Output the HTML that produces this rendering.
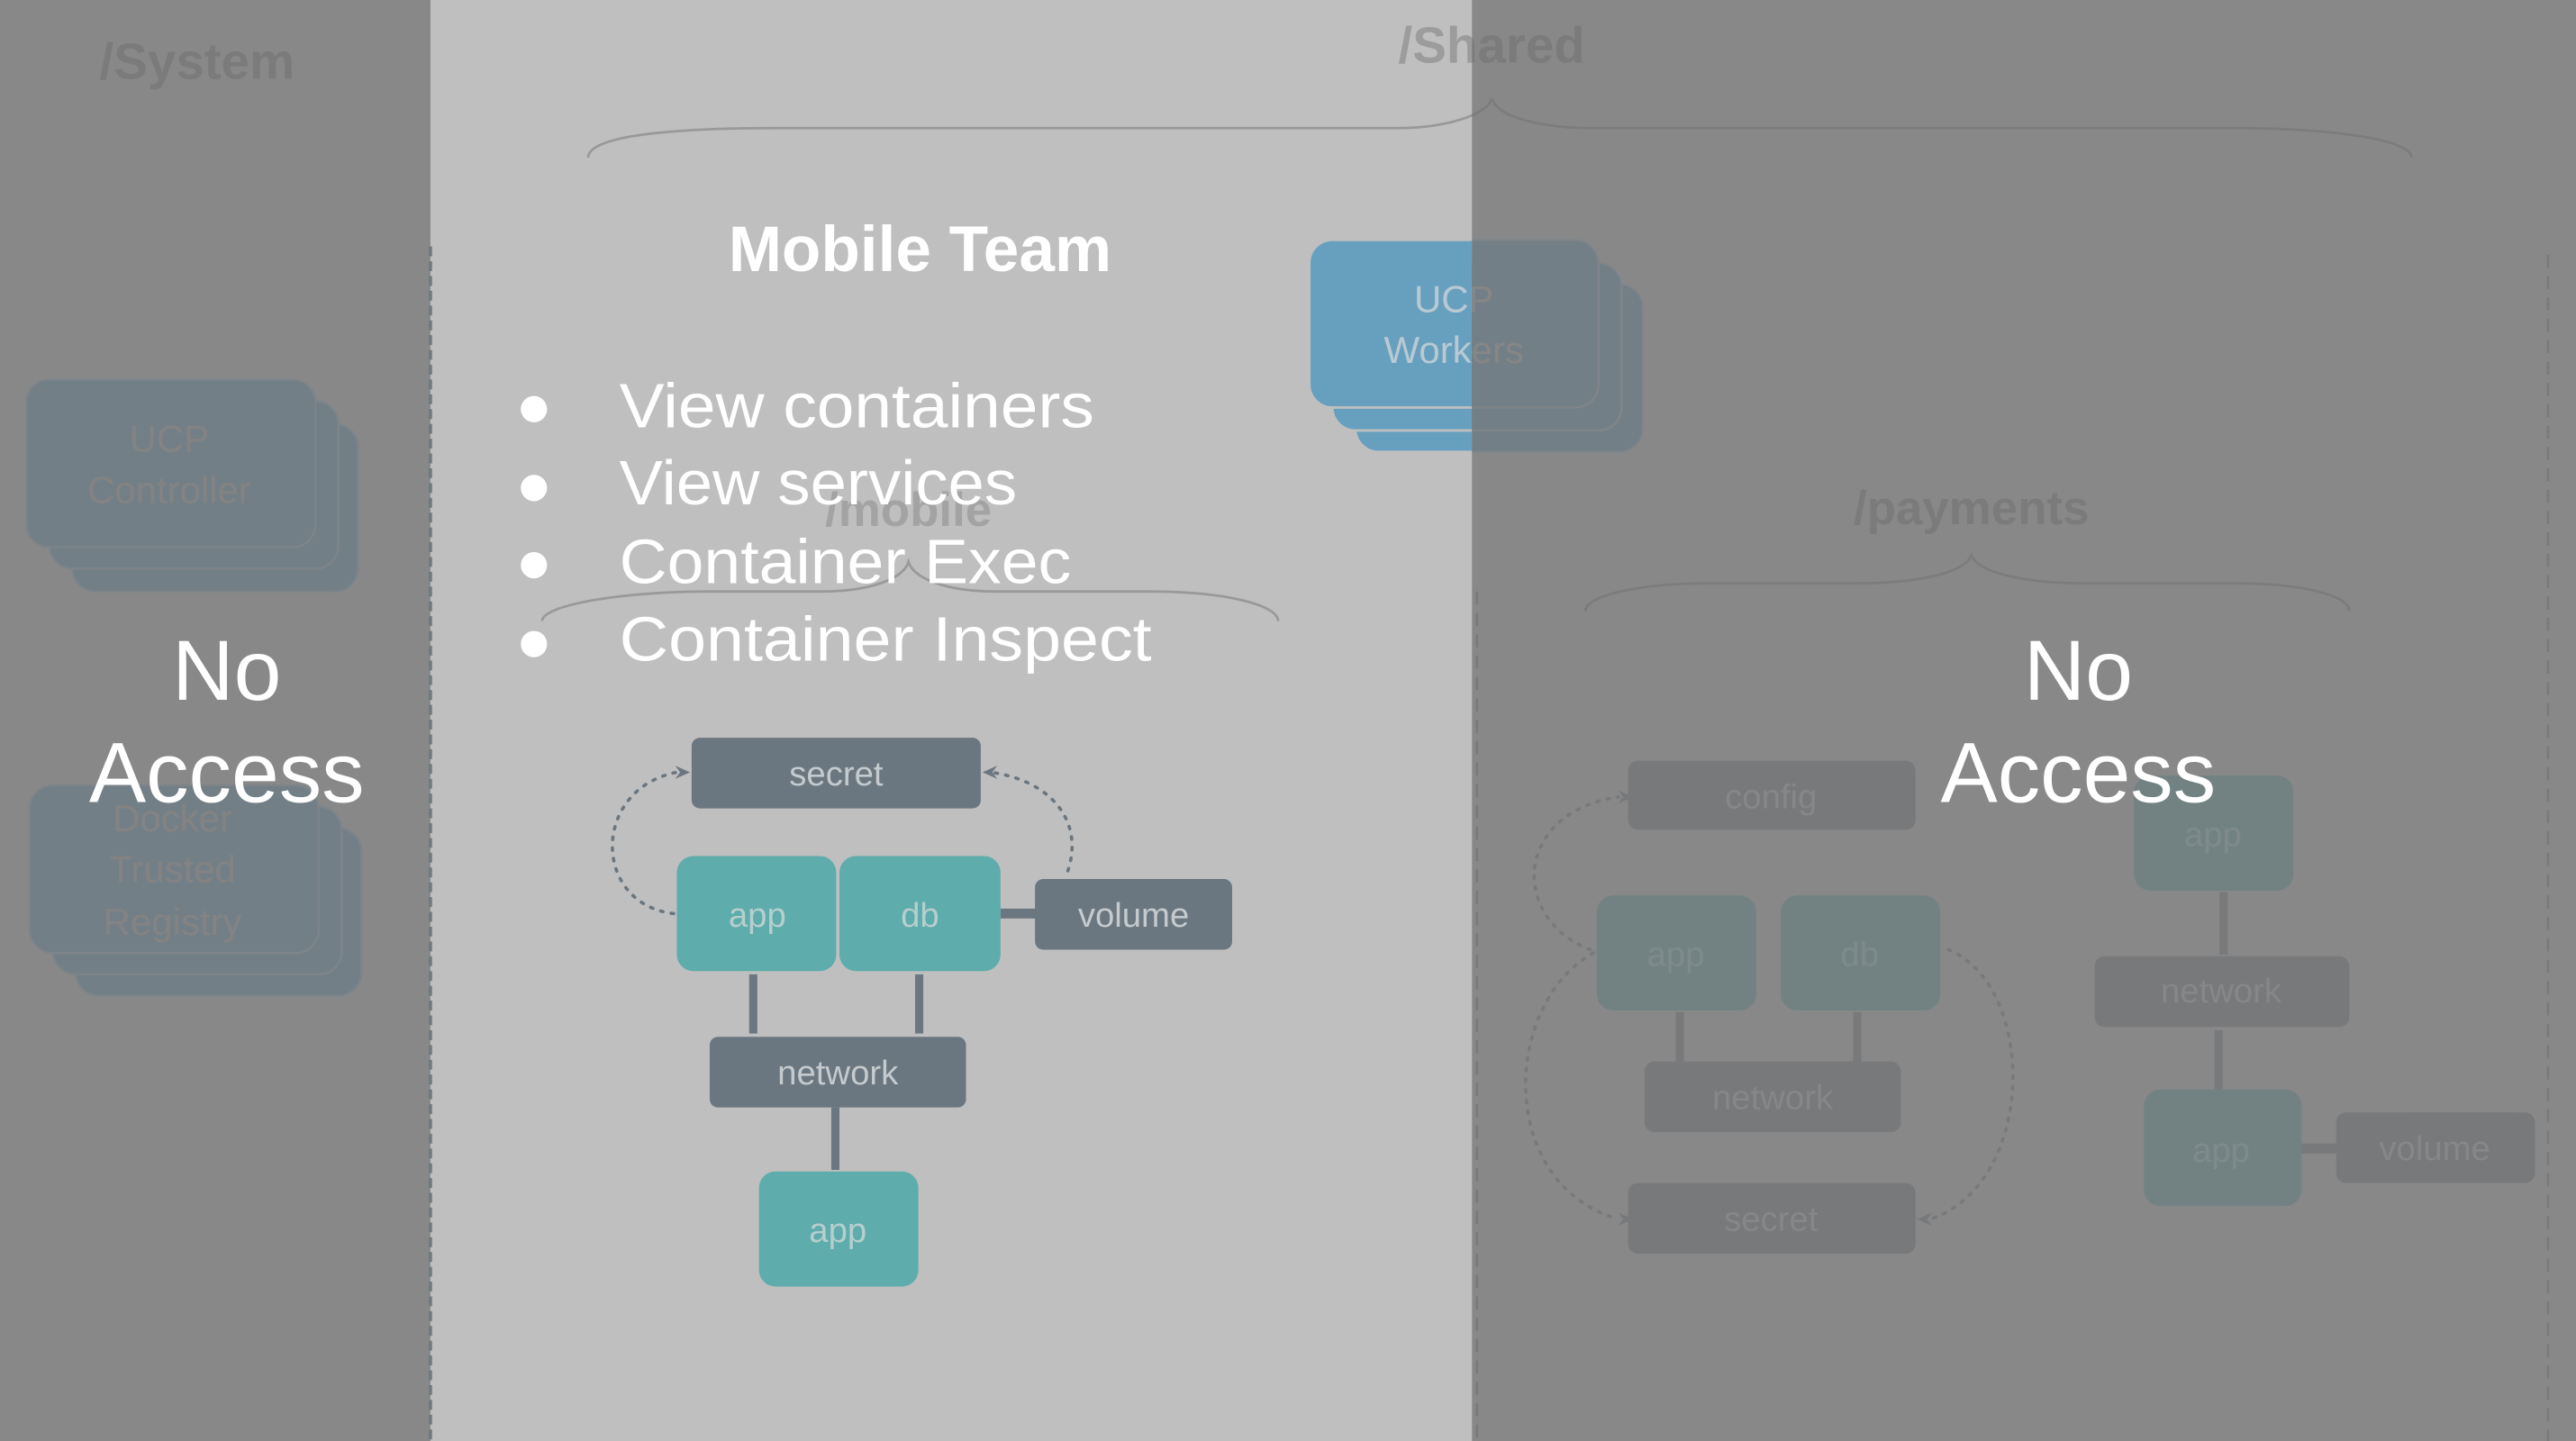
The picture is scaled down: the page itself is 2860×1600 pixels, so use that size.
<!DOCTYPE html>
<html><head><meta charset="utf-8"><style>
html,body{margin:0;padding:0;width:2860px;height:1600px;overflow:hidden;background:#888}
svg{display:block}
text{font-family:"Liberation Sans",sans-serif}
</style></head><body>
<svg width="2860" height="1600" viewBox="0 0 1568 877" preserveAspectRatio="none" xmlns="http://www.w3.org/2000/svg">
<defs>
<clipPath id="lc"><rect x="0" y="0" width="896" height="877"/></clipPath>
<clipPath id="rc"><rect x="896" y="0" width="700" height="877"/></clipPath>
</defs>
<rect x="0" y="0" width="1568" height="877" fill="#888888"/>
<rect x="262" y="0" width="634" height="877" fill="#bfbfbf"/>
<line x1="262" y1="150" x2="262" y2="877" stroke="#6f7a80" stroke-width="2" stroke-dasharray="6,3"/>
<line x1="899" y1="360" x2="899" y2="877" stroke="#7a7a7a" stroke-width="1.5" stroke-dasharray="8,5"/>
<line x1="1551" y1="155" x2="1551" y2="877" stroke="#7a7a7a" stroke-width="1.5" stroke-dasharray="8,5"/>

<text x="120" y="48" font-size="31" font-weight="bold" fill="#7b7b7b" text-anchor="middle">/System</text>
<g clip-path="url(#lc)"><text x="908" y="38" font-size="31" font-weight="bold" fill="#9c9c9c" text-anchor="middle">/Shared</text></g>
<g clip-path="url(#rc)"><text x="908" y="38" font-size="31" font-weight="bold" fill="#7b7b7b" text-anchor="middle">/Shared</text></g>
<g fill="none" stroke-width="1.5">
<path d="M358,96 C358,80 430,78 470,78 L850,78 C880,78 905,70 908,60" stroke="#999" clip-path="url(#lc)"/>
<path d="M358,96 C358,80 430,78 470,78 L850,78 C880,78 905,70 908,60" stroke="#7c7c7c" clip-path="url(#rc)"/>
<path d="M908,60 C912,72 940,78 970,78 L1360,78 C1420,78 1468,85 1468,96" stroke="#7c7c7c"/>
</g>

<g fill="#737f86" stroke="#7d858a" stroke-width="1.2">
<rect x="44" y="258" width="174" height="102" rx="14"/>
<rect x="30" y="244" width="176" height="102" rx="14"/>
<rect x="16" y="231" width="176" height="102" rx="14"/>
</g>
<text x="103" y="275" font-size="23" fill="#838383" text-anchor="middle">UCP</text>
<text x="103" y="306" font-size="23" fill="#838383" text-anchor="middle">Controller</text>
<g fill="#737f86" stroke="#7d858a" stroke-width="1.2">
<rect x="46" y="504" width="174" height="102" rx="14"/>
<rect x="32" y="491" width="176" height="102" rx="14"/>
<rect x="18" y="478" width="176" height="102" rx="14"/>
</g>
<text x="105" y="506" font-size="23" fill="#838383" text-anchor="middle">Docker</text>
<text x="105" y="537" font-size="23" fill="#838383" text-anchor="middle">Trusted</text>
<text x="105" y="569" font-size="23" fill="#838383" text-anchor="middle">Registry</text>

<g clip-path="url(#lc)">
<g fill="#67a0bf" stroke="#bfbfbf" stroke-width="1.5">
<rect x="825" y="173" width="175" height="102" rx="14"/>
<rect x="811" y="160" width="176" height="102" rx="14"/>
<rect x="797" y="146" width="176" height="102" rx="14"/>
</g>
<text x="885" y="190" font-size="23" fill="#b8c9d3" text-anchor="middle">UCP</text>
<text x="885" y="221" font-size="23" fill="#b8c9d3" text-anchor="middle">Workers</text>
</g>
<g clip-path="url(#rc)">
<g fill="#737f86" stroke="#80868a" stroke-width="1.2">
<rect x="825" y="173" width="175" height="102" rx="14"/>
<rect x="811" y="160" width="176" height="102" rx="14"/>
<rect x="797" y="146" width="176" height="102" rx="14"/>
</g>
<text x="885" y="190" font-size="23" fill="#868686" text-anchor="middle">UCP</text>
<text x="885" y="221" font-size="23" fill="#868686" text-anchor="middle">Workers</text>
</g>

<text x="553" y="320" font-size="29" font-weight="bold" fill="#a3a3a3" text-anchor="middle">/mobile</text>
<path d="M330,378 C330,368 380,360 430,360 L500,360 C530,360 550,352 553,342 C556,352 576,360 606,360 L700,360 C745,360 778,368 778,378" fill="none" stroke="#999" stroke-width="1.5"/>

<g fill="none" stroke="#6b7780" stroke-width="2" stroke-dasharray="1.5,5" stroke-linecap="round">
<path d="M410,556 C360,550 360,480 412,470"/>
<path d="M650,530 C660,500 640,475 603,470"/>
</g>
<path d="M411,466 L420,470 L411,474 L414,470 Z" fill="#6b7780"/>
<path d="M607,466 L598,470 L607,474 L604,470 Z" fill="#6b7780"/>
<g fill="#6b7780">
<rect x="456" y="593" width="5" height="36"/>
<rect x="557" y="593" width="5" height="36"/>
<rect x="506" y="674" width="5" height="38"/>
<rect x="609" y="553" width="22" height="6"/>
</g>
<rect x="421" y="449" width="176" height="43" rx="5" fill="#6b7780"/>
<rect x="412" y="521" width="97" height="70" rx="10" fill="#5eacac"/>
<rect x="511" y="521" width="98" height="70" rx="10" fill="#5eacac"/>
<rect x="630" y="535" width="120" height="43" rx="5" fill="#6b7780"/>
<rect x="432" y="631" width="156" height="43" rx="5" fill="#6b7780"/>
<rect x="462" y="713" width="97" height="70" rx="10" fill="#5eacac"/>
<g font-size="21" text-anchor="middle" fill="#c4cacd">
<text x="509" y="478">secret</text>
<text x="690" y="564">volume</text>
<text x="510" y="660">network</text>
</g>
<g font-size="21" text-anchor="middle" fill="#b5cfcd">
<text x="461" y="564">app</text>
<text x="560" y="564">db</text>
<text x="510" y="756">app</text>
</g>

<text x="560" y="165" font-size="39" font-weight="bold" fill="#ffffff" text-anchor="middle">Mobile Team</text>
<g fill="#fff">
<circle cx="325" cy="249" r="8"/><circle cx="325" cy="297" r="8"/><circle cx="325" cy="344" r="8"/><circle cx="325" cy="392" r="8"/>
</g>
<g font-size="38" fill="#fff">
<text x="377" y="260" textLength="289" lengthAdjust="spacingAndGlyphs">View containers</text>
<text x="377" y="307" textLength="242" lengthAdjust="spacingAndGlyphs">View services</text>
<text x="377" y="355" textLength="275" lengthAdjust="spacingAndGlyphs">Container Exec</text>
<text x="377" y="402" textLength="324" lengthAdjust="spacingAndGlyphs">Container Inspect</text>
</g>

<text x="1200" y="319" font-size="29" font-weight="bold" fill="#7b7b7b" text-anchor="middle">/payments</text>
<path d="M965,372 C965,362 1000,355 1040,355 L1130,355 C1170,355 1196,348 1200,338 C1204,348 1230,355 1270,355 L1360,355 C1400,355 1430,362 1430,372" fill="none" stroke="#7c7c7c" stroke-width="1.5"/>
<g fill="none" stroke="#78797b" stroke-width="2" stroke-dasharray="1.5,5" stroke-linecap="round">
<path d="M968,578 C920,560 920,495 985,485"/>
<path d="M970,580 C915,610 910,720 985,742"/>
<path d="M1186,578 C1240,600 1240,720 1175,742"/>
</g>
<path d="M985,481 L994,485 L985,489 L988,485 Z" fill="#78797b"/>
<path d="M985,738 L994,742 L985,746 L988,742 Z" fill="#78797b"/>
<path d="M1176,738 L1167,742 L1176,746 L1173,742 Z" fill="#78797b"/>
<g fill="#78797b">
<rect x="1020" y="616" width="5" height="30"/>
<rect x="1128" y="616" width="5" height="30"/>
<rect x="1351" y="543" width="5" height="38"/>
<rect x="1348" y="627" width="5" height="36"/>
<rect x="1401" y="696" width="22" height="6"/>
</g>
<g fill="#78797b">
<rect x="991" y="463" width="175" height="42" rx="6"/>
<rect x="1001" y="646" width="156" height="43" rx="6"/>
<rect x="991" y="720" width="175" height="43" rx="6"/>
<rect x="1275" y="582" width="155" height="43" rx="6"/>
<rect x="1422" y="677" width="121" height="43" rx="6"/>
</g>
<g fill="#728282">
<rect x="972" y="545" width="97" height="70" rx="10"/>
<rect x="1084" y="545" width="97" height="70" rx="10"/>
<rect x="1299" y="472" width="97" height="70" rx="10"/>
<rect x="1305" y="663" width="96" height="71" rx="10"/>
</g>
<g font-size="21" text-anchor="middle" fill="#878787">
<text x="1078" y="492">config</text>
<text x="1079" y="675">network</text>
<text x="1078" y="749">secret</text>
<text x="1352" y="610">network</text>
<text x="1482" y="706">volume</text>
</g>
<g font-size="21" text-anchor="middle" fill="#7f8b8b">
<text x="1020" y="588">app</text>
<text x="1132" y="588">db</text>
<text x="1347" y="515">app</text>
<text x="1352" y="707">app</text>
</g>

<g font-size="52" fill="#fff" text-anchor="middle">
<text x="138" y="426">No</text>
<text x="138" y="488">Access</text>
<text x="1265" y="426">No</text>
<text x="1265" y="488">Access</text>
</g>
</svg>
</body></html>
